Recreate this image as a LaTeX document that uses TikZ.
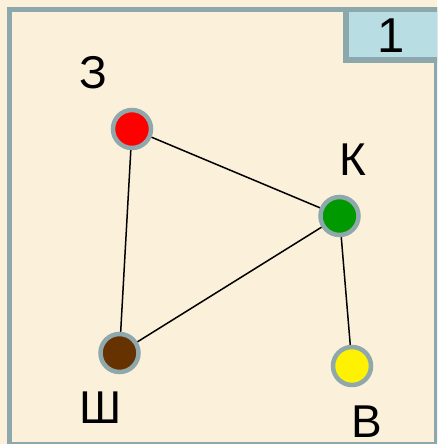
\documentclass[tikz,border=0pt]{standalone}
\usepackage{fontspec}
\setmainfont{Liberation Sans}
\definecolor{bg}{HTML}{FBF0DA}
\definecolor{frm}{HTML}{8CA8AC}
\definecolor{boxfill}{HTML}{B8DEE4}
\definecolor{ring}{HTML}{8FA8AC}
\definecolor{brn}{HTML}{663300}
\definecolor{grn}{HTML}{009900}
\tikzset{
  vtx/.style={circle, draw=ring, line width=4.5pt, minimum size=38pt, inner sep=0pt},
  lbl/.style={font=\fontsize{46}{46}\selectfont, inner sep=0pt, anchor=center},
  edge/.style={line width=1.5pt, black}
}
\begin{document}
\begin{tikzpicture}[x=1pt,y=-1pt]
\useasboundingbox (0,0) rectangle (437,444);
\clip (0,0) rectangle (437,444);
\fill[bg] (0,0) rectangle (437,444);
\draw[frm, line width=5pt] (9.5,9.5) rectangle (436.5,444.5);
\draw[frm, fill=boxfill, line width=5.5pt] (346,9.5) rectangle (440,60);
\node[font=\fontsize{49}{49}\selectfont, inner sep=0pt] (num) at (391,36) {1};
\coordinate (pz) at (132,129);
\coordinate (pk) at (339.5,216);
\coordinate (psh) at (119.5,353);
\coordinate (pv) at (352,366);
\draw[edge] (pz) -- (pk);
\draw[edge] (pz) -- (psh);
\draw[edge] (pk) -- (psh);
\draw[edge] (pk) -- (pv);
\node[vtx, fill=red] (z) at (pz) {};
\node[vtx, fill=grn] (k) at (pk) {};
\node[vtx, fill=brn] (sh) at (psh) {};
\node[vtx, fill=yellow] (v) at (pv) {};
\node[lbl] (lz) at (93,73) {З};
\node[lbl] (lk) at (352.5,160) {К};
\node[lbl] (lsh) at (101,408) {Ш};
\node[lbl] (lv) at (367,422) {В};
\end{tikzpicture}
\end{document}
